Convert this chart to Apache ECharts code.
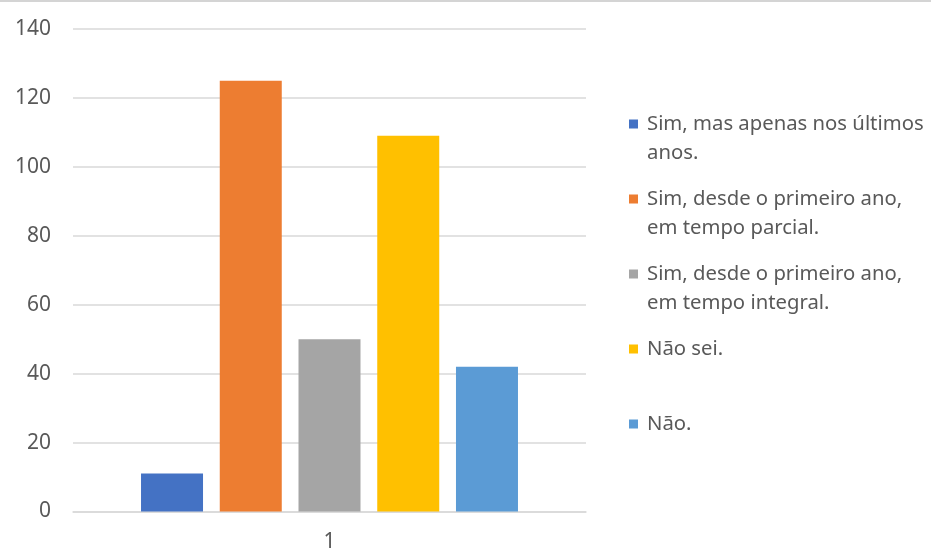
<!DOCTYPE html>
<html>
<head>
<meta charset="utf-8">
<script src="https://cdn.jsdelivr.net/npm/echarts@6/dist/echarts.min.js"></script>
<style>
html,body{margin:0;padding:0;background:#fff;}
#chart{width:931px;height:548px;}
</style>
</head>
<body>
<div id="chart"></div>
<script>
const categories = ['1'];
const seriesNames = [
  'Sim, mas apenas nos últimos\nanos.',
  'Sim, desde o primeiro ano,\nem tempo parcial.',
  'Sim, desde o primeiro ano,\nem tempo integral.',
  'Não sei.',
  'Não.'
];
const seriesValues = [11, 125, 50, 109, 42];
const seriesColors = ['#4472C4', '#ED7D31', '#A5A5A5', '#FFC000', '#5B9BD5'];
const yTicks = { min: 0, max: 140, interval: 20 };

const LH = 29;
const BOX_W = 13, BOX_H = 2 * LH;
// square marker placed in front of the first text line of each legend entry
const markerPath = 'path://M0,0h0.01v0.01h-0.01z M' + (BOX_W - 0.01) + ',' + (BOX_H - 0.01) +
  'h0.01v0.01h-0.01z M0,' + (LH / 2 - 4.5) + 'h9v9h-9z';

const chart = echarts.init(document.getElementById('chart'));
const series = seriesNames.map((name, i) => ({
  name: name,
  type: 'bar',
  data: [seriesValues[i]],
  barWidth: 62,
  barGap: '27%',
  itemStyle: { color: seriesColors[i] },
  emphasis: { disabled: true }
}));

chart.setOption({
  animation: false,
  textStyle: { fontFamily: 'Noto Sans' },
  grid: { left: 73, right: 345, top: 29, bottom: 36.5, containLabel: false, outerBoundsMode: 'none' },
  xAxis: {
    type: 'category',
    data: categories,
    axisLine: { show: true, lineStyle: { color: '#D9D9D9', width: 1.5 } },
    axisTick: { show: false },
    axisLabel: { color: '#595959', fontSize: 21, margin: 20 }
  },
  yAxis: {
    type: 'value',
    min: yTicks.min,
    max: yTicks.max,
    interval: yTicks.interval,
    axisLine: { show: false },
    axisTick: { show: false },
    splitLine: { lineStyle: { color: '#D9D9D9', width: 1.5 } },
    axisLabel: { color: '#595959', fontSize: 21, margin: 22 }
  },
  legend: {
    orient: 'vertical',
    left: 629,
    top: 124 - LH / 2,
    padding: 0,
    itemWidth: BOX_W,
    itemHeight: BOX_H,
    itemGap: 75 - BOX_H,
    icon: markerPath,
    symbolKeepAspect: false,
    selectedMode: false,
    data: seriesNames,
    formatter: name => (name.indexOf('\n') >= 0 ? name : name + '\n'),
    textStyle: { color: '#595959', fontSize: 20.3, lineHeight: LH, fontFamily: 'Noto Sans' }
  },
  graphic: [{
    type: 'rect',
    left: 0, top: 0,
    shape: { width: 931, height: 2 },
    style: { fill: '#D4D4D4' },
    silent: true
  }],
  series: series
});
</script>
</body>
</html>
